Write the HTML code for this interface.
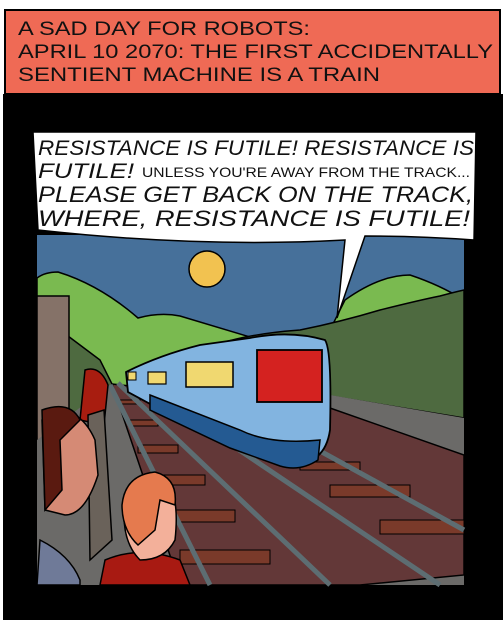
<!DOCTYPE html>
<html><head><meta charset="utf-8"><style>
html,body{margin:0;padding:0;background:#fff;width:504px;height:624px;overflow:hidden}
svg{display:block}
text{font-family:"Liberation Sans",sans-serif}
</style></head><body>
<svg width="504" height="624" viewBox="0 0 504 624">
<rect x="5" y="10" width="495" height="84" fill="#ef6a55" stroke="#000" stroke-width="2"/>
<g font-size="19" fill="#111">
<text x="18" y="35" textLength="292" lengthAdjust="spacingAndGlyphs">A SAD DAY FOR ROBOTS:</text>
<text x="18" y="58" textLength="475" lengthAdjust="spacingAndGlyphs">APRIL 10  2070: THE FIRST ACCIDENTALLY</text>
<text x="18" y="81" textLength="362" lengthAdjust="spacingAndGlyphs">SENTIENT MACHINE IS A TRAIN</text>
</g>
<rect x="3" y="94" width="500" height="526" fill="#000"/>
<g>
<rect x="37" y="235" width="427" height="350" fill="#46709a"/>
<circle cx="207" cy="269" r="18" fill="#f2c250" stroke="#000" stroke-width="1.5"/>
<path d="M37,278 Q45,272 58,272 Q100,285 138,318 Q160,312 180,316 Q210,325 260,340 L330,330 L345,300 Q380,275 410,275 Q440,285 464,300 L464,420 L37,420Z" fill="#7aba50" stroke="#000" stroke-width="1.5"/>
<path d="M190,355 Q230,335 300,330 Q340,322 380,310 Q420,300 440,296 Q455,292 464,290 L464,418 L330,396 L210,375Z" fill="#4e6a40" stroke="#000" stroke-width="1.5"/>
<path d="M60,330 L100,360 L120,400 L60,420Z" fill="#4e6a40" stroke="#000" stroke-width="1.5"/>
<rect x="37" y="296" width="32" height="160" fill="#857268" stroke="#000" stroke-width="1.5"/>
<path d="M330,395 L464,418 L464,585 L37,585 L37,440 L110,385 Z" fill="#6b6a68"/>
<path d="M112,384 L330,408 L464,455 L464,575 L360,585 L180,585 Z" fill="#633838" stroke="#000" stroke-width="1.5"/>
<g stroke="#000" stroke-width="1" fill="#7a3a2a">
<rect x="120" y="400" width="20" height="4"/><rect x="128" y="420" width="30" height="6"/><rect x="138" y="445" width="40" height="8"/><rect x="150" y="475" width="55" height="10"/><rect x="165" y="510" width="70" height="12"/><rect x="180" y="550" width="90" height="14"/>
<rect x="330" y="485" width="80" height="12"/><rect x="380" y="520" width="84" height="14"/><rect x="300" y="462" width="60" height="8"/>
</g>
<g stroke="#5d6d72" stroke-width="5" fill="none">
<path d="M110,385 L210,585"/><path d="M118,383 L330,585"/><path d="M150,390 L440,585"/><path d="M300,440 L464,530"/>
</g>
<path d="M126,372 Q160,355 200,345 L250,338 Q290,330 325,340 Q332,350 330,430 Q325,465 290,465 L240,450 L180,420 L128,392Z" fill="#82b4e0" stroke="#000" stroke-width="1.8"/>
<path d="M150,395 L240,430 Q270,445 320,440 L318,460 Q300,472 280,466 L230,448 L150,410Z" fill="#245a92" stroke="#000" stroke-width="1.5"/>
<rect x="257" y="350" width="65" height="52" fill="#d42220" stroke="#000" stroke-width="1.8"/>
<rect x="186" y="362" width="47" height="25" fill="#f0d870" stroke="#000" stroke-width="1.5"/>
<rect x="148" y="372" width="18" height="12" fill="#f0d870" stroke="#000" stroke-width="1.2"/>
<rect x="128" y="372" width="8" height="8" fill="#f0d870" stroke="#000" stroke-width="1"/>
<path d="M85,370 Q100,365 108,385 L104,425 L80,420Z" fill="#a81d10" stroke="#000" stroke-width="1.5"/>
<path d="M88,415 L104,410 L112,540 L90,560Z" fill="#6a625a" stroke="#000" stroke-width="1.5"/>
<path d="M40,540 Q70,555 80,580 L80,585 L37,585Z" fill="#6f7a98" stroke="#000" stroke-width="1.5"/>
<path d="M45,410 Q80,405 95,440 L98,475 Q85,515 65,515 L45,510 L42,420Z" fill="#d58a75" stroke="#000" stroke-width="1.5"/>
<path d="M42,410 Q70,400 80,420 L60,440 L62,490 L45,510Z" fill="#5a1a10" stroke="#000" stroke-width="1.5"/>
<path d="M105,560 Q140,545 180,560 L190,585 L100,585Z" fill="#a81a12" stroke="#000" stroke-width="1.5"/>
<path d="M125,500 Q140,470 165,478 Q180,495 175,540 Q165,560 140,560 Q120,540 125,500Z" fill="#f3b09a" stroke="#000" stroke-width="1.5"/>
<path d="M122,505 Q125,475 155,472 Q178,478 175,505 L160,500 L155,530 L138,545 Q122,530 122,505Z" fill="#e57a4e" stroke="#000" stroke-width="1.5"/>
</g>
<path d="M33,132 L476,132 L474,240 Q420,236 365,236 L337,318 L345,240 Q200,248 38,230 Z" fill="#fff" stroke="#000" stroke-width="1.5"/>
<g font-size="21" font-style="italic" fill="#111">
<text x="38" y="155" textLength="436" lengthAdjust="spacingAndGlyphs">RESISTANCE IS FUTILE! RESISTANCE IS</text>
<text x="38" y="178" textLength="96" lengthAdjust="spacingAndGlyphs">FUTILE!</text>
<text x="142" y="177" font-size="14" font-style="normal" textLength="328" lengthAdjust="spacingAndGlyphs">UNLESS YOU'RE AWAY FROM THE TRACK...</text>
<text x="38" y="202" font-size="22" textLength="435" lengthAdjust="spacingAndGlyphs">PLEASE GET BACK ON THE TRACK,</text>
<text x="38" y="226" font-size="22" textLength="432" lengthAdjust="spacingAndGlyphs">WHERE,  RESISTANCE IS FUTILE!</text>
</g>
</svg>
</body></html>
